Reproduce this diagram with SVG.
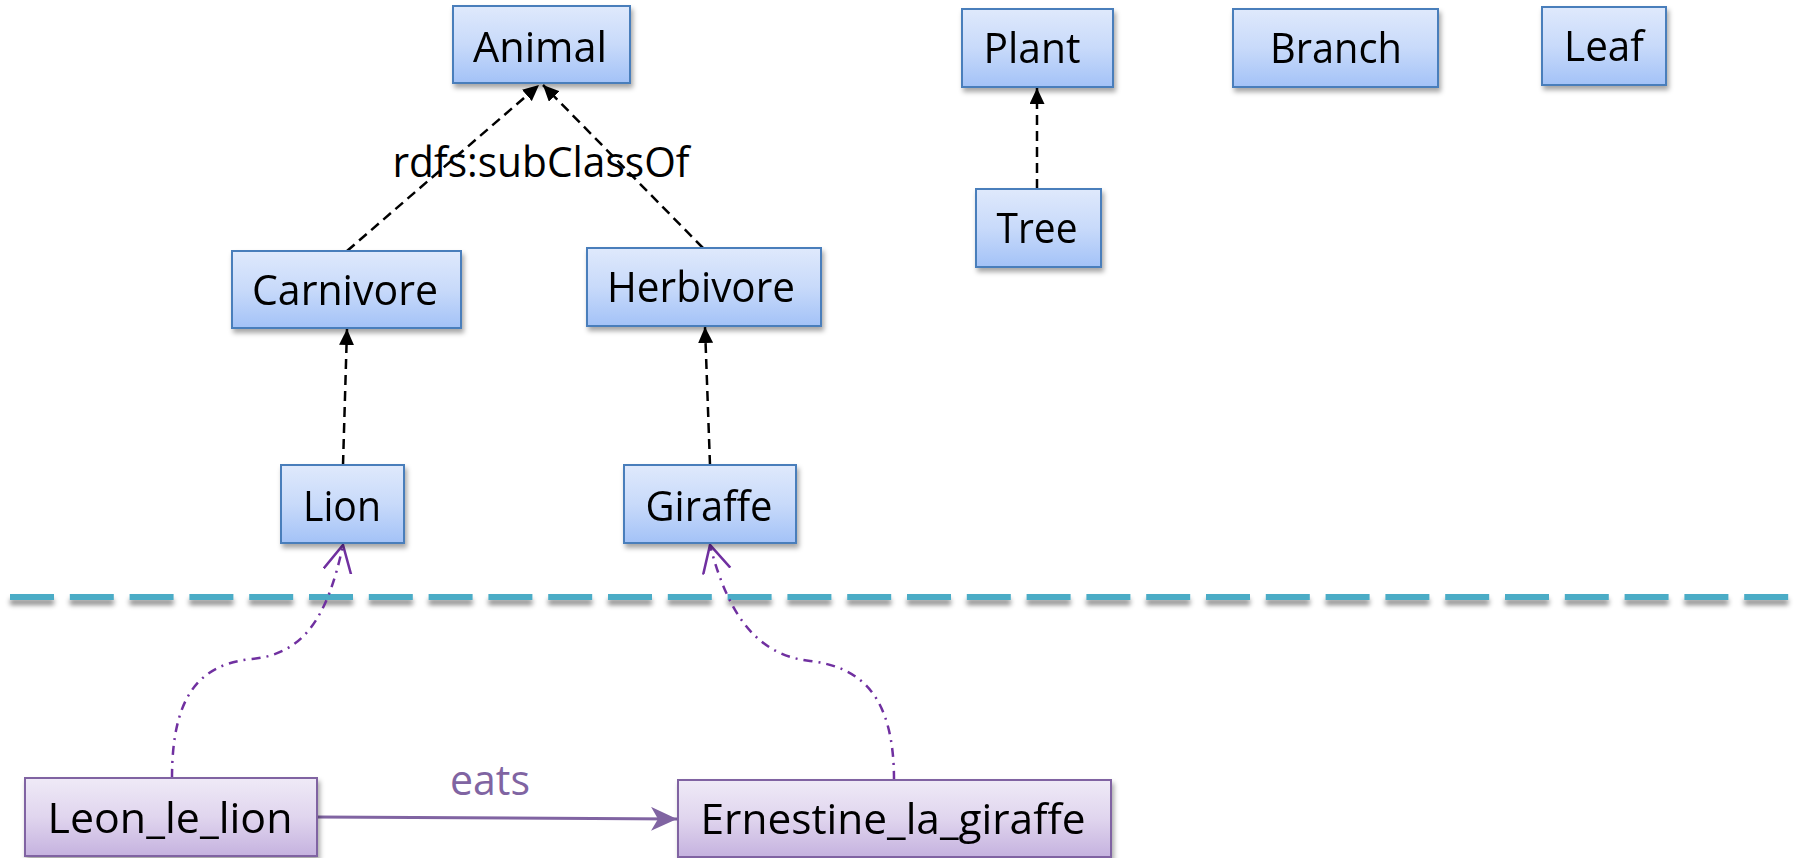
<svg xmlns="http://www.w3.org/2000/svg" width="1803" height="858" viewBox="0 0 1803 858">
<defs>
<style>
.box{stroke:#4A7EBB;stroke-width:2;fill:url(#gBlue)}
.ibox{stroke:#8064A2;stroke-width:2;fill:url(#gPurple)}
.lbl{font-family:"Open Sans","Liberation Sans",sans-serif;font-size:42px;fill:#000;text-anchor:middle}
.sub{stroke:#000;stroke-width:2.5;stroke-dasharray:10 6;fill:none;marker-end:url(#aBlack)}
.typ{stroke:#7030A0;stroke-width:2.5;stroke-dasharray:9 6 2 6;fill:none;marker-end:url(#aOpen)}
</style>
<linearGradient id="gBlue" x1="0" y1="0" x2="0" y2="1">
<stop offset="0" stop-color="#DFE9FC"/>
<stop offset="0.5" stop-color="#C8DAFA"/>
<stop offset="1" stop-color="#A3C2F7"/>
</linearGradient>
<linearGradient id="gPurple" x1="0" y1="0" x2="0" y2="1">
<stop offset="0" stop-color="#EFEAF7"/>
<stop offset="0.5" stop-color="#E0D5EE"/>
<stop offset="1" stop-color="#C5B2DF"/>
</linearGradient>
<filter id="sh" x="-10%" y="-20%" width="125%" height="150%">
<feDropShadow dx="2" dy="4" stdDeviation="2.5" flood-color="#000" flood-opacity="0.35"/>
</filter>
<filter id="shLine" filterUnits="userSpaceOnUse" x="0" y="580" width="1803" height="40">
<feDropShadow dx="0" dy="5" stdDeviation="2.5" flood-color="#000" flood-opacity="0.45"/>
</filter>
<marker id="aBlack" markerUnits="userSpaceOnUse" markerWidth="17" markerHeight="15" refX="16" refY="7.5" orient="auto">
<path d="M0,0 L16,7.5 L0,15 z" fill="#000"/>
</marker>
<marker id="aOpen" markerUnits="userSpaceOnUse" markerWidth="30" markerHeight="32" refX="27" refY="15" orient="auto">
<path d="M0,1 L27,15 L0,29" fill="none" stroke="#7030A0" stroke-width="2.5"/>
</marker>
<marker id="aStealth" markerUnits="userSpaceOnUse" markerWidth="28" markerHeight="26" refX="26" refY="12" orient="auto">
<path d="M0,0 L26,12 L0,24 L7,12 z" fill="#8064A2"/>
</marker>
</defs>
<rect width="1803" height="858" fill="#fff"/>

<path d="M10,597 H1789" stroke="#4BACC6" stroke-width="6" stroke-dasharray="44 15.8" fill="none" filter="url(#shLine)"/>

<g id="connectors">
<line class="sub" x1="347" y1="251" x2="539" y2="85"/>
<line class="sub" x1="703" y1="248" x2="543" y2="85"/>
<line class="sub" x1="343" y1="465" x2="347" y2="329"/>
<line class="sub" x1="710" y1="465" x2="705" y2="327"/>
<line class="sub" x1="1037" y1="189" x2="1037" y2="88"/>
<path class="typ" d="M172,778 C172,695 200,664 252,659 C305,654 328,615 343,545"/>
<path class="typ" d="M894,780 C894,697 862,667 810,661 C757,655 728,615 710,545"/>
<line x1="317" y1="817" x2="677" y2="819" stroke="#8064A2" stroke-width="3" marker-end="url(#aStealth)"/>
<text x="541" y="177" class="lbl" textLength="297" lengthAdjust="spacingAndGlyphs">rdfs:subClassOf</text>
<text x="490" y="795" class="lbl" style="fill:#8064A2" textLength="80" lengthAdjust="spacingAndGlyphs">eats</text>
</g>

<g id="animal" filter="url(#sh)"><rect class="box" x="453" y="6" width="177" height="77"/><text class="lbl" x="540" y="62" textLength="134" lengthAdjust="spacingAndGlyphs">Animal</text></g>
<g id="plant" filter="url(#sh)"><rect class="box" x="962" y="9" width="151" height="78"/><text class="lbl" x="1032" y="63" textLength="97" lengthAdjust="spacingAndGlyphs">Plant</text></g>
<g id="branch" filter="url(#sh)"><rect class="box" x="1233" y="9" width="205" height="78"/><text class="lbl" x="1336" y="63" textLength="132" lengthAdjust="spacingAndGlyphs">Branch</text></g>
<g id="leaf" filter="url(#sh)"><rect class="box" x="1542" y="7" width="124" height="78"/><text class="lbl" x="1604" y="61" textLength="80" lengthAdjust="spacingAndGlyphs">Leaf</text></g>
<g id="tree" filter="url(#sh)"><rect class="box" x="976" y="189" width="125" height="78"/><text class="lbl" x="1037" y="243" textLength="81" lengthAdjust="spacingAndGlyphs">Tree</text></g>
<g id="carnivore" filter="url(#sh)"><rect class="box" x="232" y="251" width="229" height="77"/><text class="lbl" x="345" y="305" textLength="186" lengthAdjust="spacingAndGlyphs">Carnivore</text></g>
<g id="herbivore" filter="url(#sh)"><rect class="box" x="587" y="248" width="234" height="78"/><text class="lbl" x="701" y="302" textLength="188" lengthAdjust="spacingAndGlyphs">Herbivore</text></g>
<g id="lion" filter="url(#sh)"><rect class="box" x="281" y="465" width="123" height="78"/><text class="lbl" x="342" y="521" textLength="78" lengthAdjust="spacingAndGlyphs">Lion</text></g>
<g id="giraffe" filter="url(#sh)"><rect class="box" x="624" y="465" width="172" height="78"/><text class="lbl" x="709" y="521" textLength="127" lengthAdjust="spacingAndGlyphs">Giraffe</text></g>
<g id="leon_le_lion" filter="url(#sh)"><rect class="ibox" x="25" y="778" width="292" height="78"/><text class="lbl" x="170" y="833" textLength="245" lengthAdjust="spacingAndGlyphs">Leon_le_lion</text></g>
<g id="ernestine_la_giraffe" filter="url(#sh)"><rect class="ibox" x="678" y="780" width="433" height="77"/><text class="lbl" x="893" y="834" textLength="385" lengthAdjust="spacingAndGlyphs">Ernestine_la_giraffe</text></g>
</svg>
